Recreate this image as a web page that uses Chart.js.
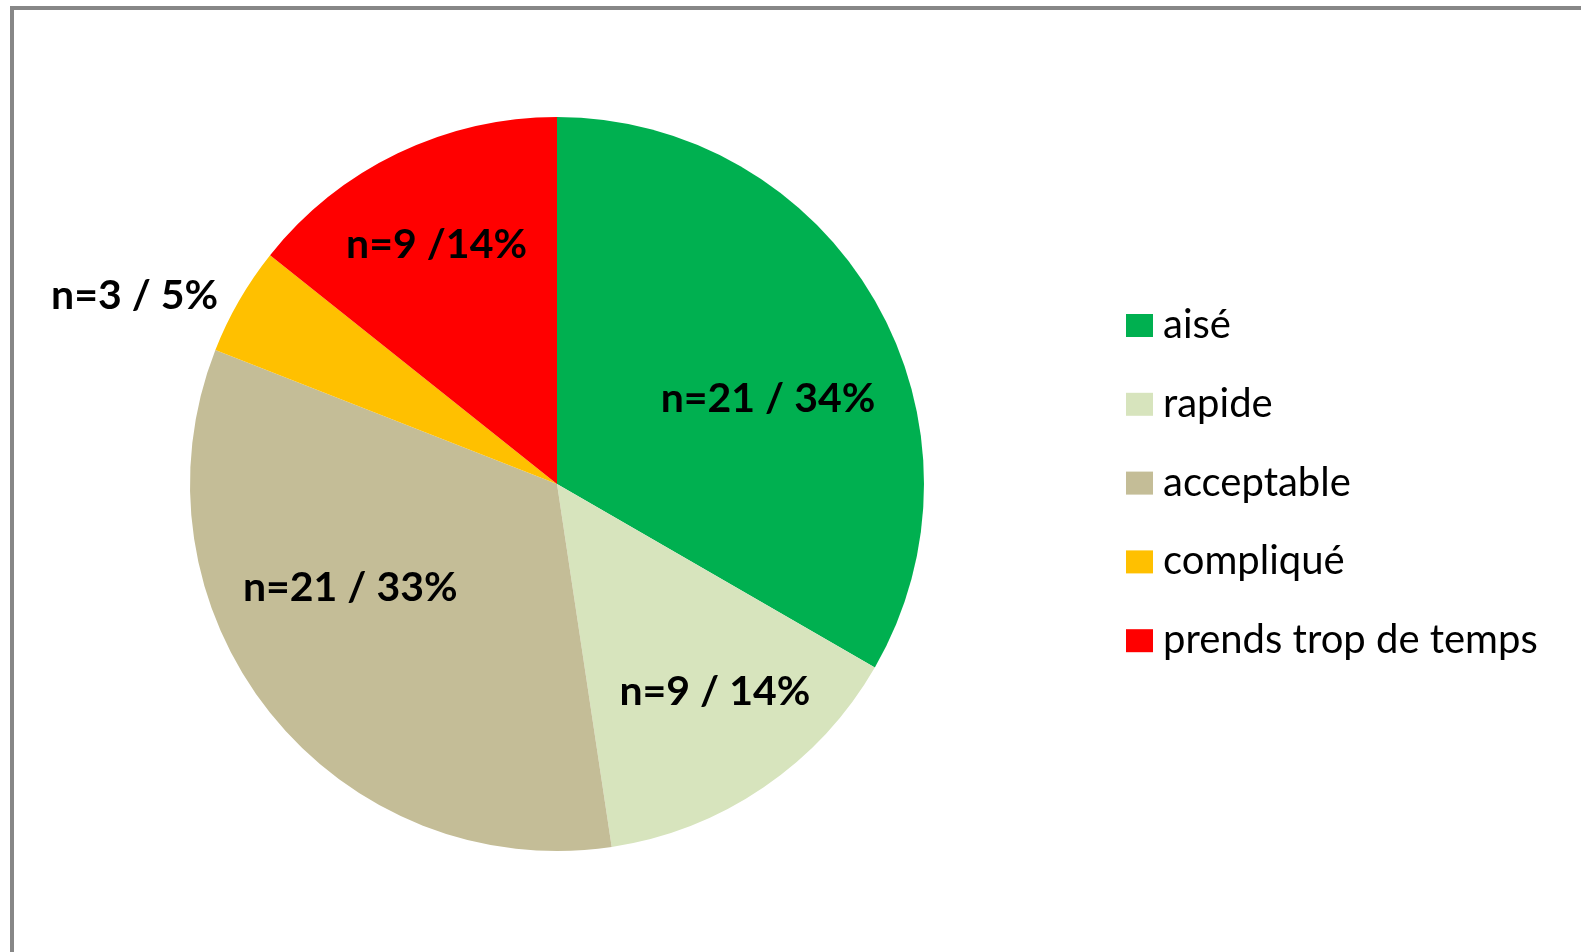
<!DOCTYPE html>
<html>
<head>
<meta charset="utf-8">
<script src="https://cdn.jsdelivr.net/npm/chart.js@4.4.1/dist/chart.umd.min.js"></script>
<style>
  html, body { margin: 0; padding: 0; background: #fff; }
  #wrap { position: relative; width: 1581px; height: 952px; overflow: hidden; }
  #frame { position: absolute; left: 10px; top: 6px; right: 0; bottom: 0;
           border-top: 4px solid #878787; border-left: 4px solid #878787; }
  #chart { position: absolute; left: 0; top: 0; }
</style>
</head>
<body>
<div id="wrap">
  <div id="frame"></div>
  <canvas id="chart" width="1581" height="952"></canvas>
</div>
<script>
// data
const categories = ['aisé', 'rapide', 'acceptable', 'compliqué', 'prends trop de temps'];
const counts = [21, 9, 21, 3, 9];
const sliceLabels = ['n=21 / 34%', 'n=9 / 14%', 'n=21 / 33%', 'n=3 / 5%', 'n=9 /14%'];
const sliceColors = ['#00B050', '#D7E4BD', '#C4BD97', '#FFC000', '#FF0000'];

// where each label sits: fraction of radius and angle nudge (deg)
const labelRadius = [0.62, 0.71, 0.63, 1.26, 0.73];
const labelNudge = [8, -3, 12, -6, -1];

const sliceLabelPlugin = {
    id: 'sliceLabels',
    afterDatasetsDraw(chart) {
        const ctx = chart.ctx;
        const arcs = chart.getDatasetMeta(0).data;
        ctx.save();
        ctx.font = 'bold 41px Lato';
        ctx.fillStyle = '#000';
        ctx.textAlign = 'center';
        ctx.textBaseline = 'middle';
        arcs.forEach((arc, i) => {
            const p = arc.getProps(['x', 'y', 'startAngle', 'endAngle', 'outerRadius'], true);
            const a = (p.startAngle + p.endAngle) / 2 + labelNudge[i] * Math.PI / 180;
            const r = p.outerRadius * labelRadius[i];
            ctx.fillText(sliceLabels[i], p.x + Math.cos(a) * r, p.y + Math.sin(a) * r);
        });
        ctx.restore();
    }
};

const sideLegendPlugin = {
    id: 'sideLegend',
    afterDraw(chart) {
        const ctx = chart.ctx;
        const x = 1126, top = 314, step = 78.8;
        ctx.save();
        ctx.font = '40px Lato';
        ctx.textBaseline = 'alphabetic';
        ctx.textAlign = 'left';
        chart.data.labels.forEach((label, i) => {
            const y = top + i * step;
            ctx.fillStyle = chart.data.datasets[0].backgroundColor[i];
            ctx.fillRect(x, y, 27, 23);
            ctx.fillStyle = '#000';
            ctx.fillText(label, x + 37, y + 24);
        });
        ctx.restore();
    }
};

new Chart(document.getElementById('chart'), {
    type: 'pie',
    data: {
        labels: categories,
        datasets: [{
            data: counts,
            backgroundColor: sliceColors,
            borderWidth: 0
        }]
    },
    options: {
        responsive: false,
        animation: false,
        layout: { padding: { left: 190, top: 117, right: 657, bottom: 101 } },
        plugins: {
            legend: { display: false },
            tooltip: { enabled: false }
        }
    },
    plugins: [sliceLabelPlugin, sideLegendPlugin]
});
</script>
</body>
</html>
